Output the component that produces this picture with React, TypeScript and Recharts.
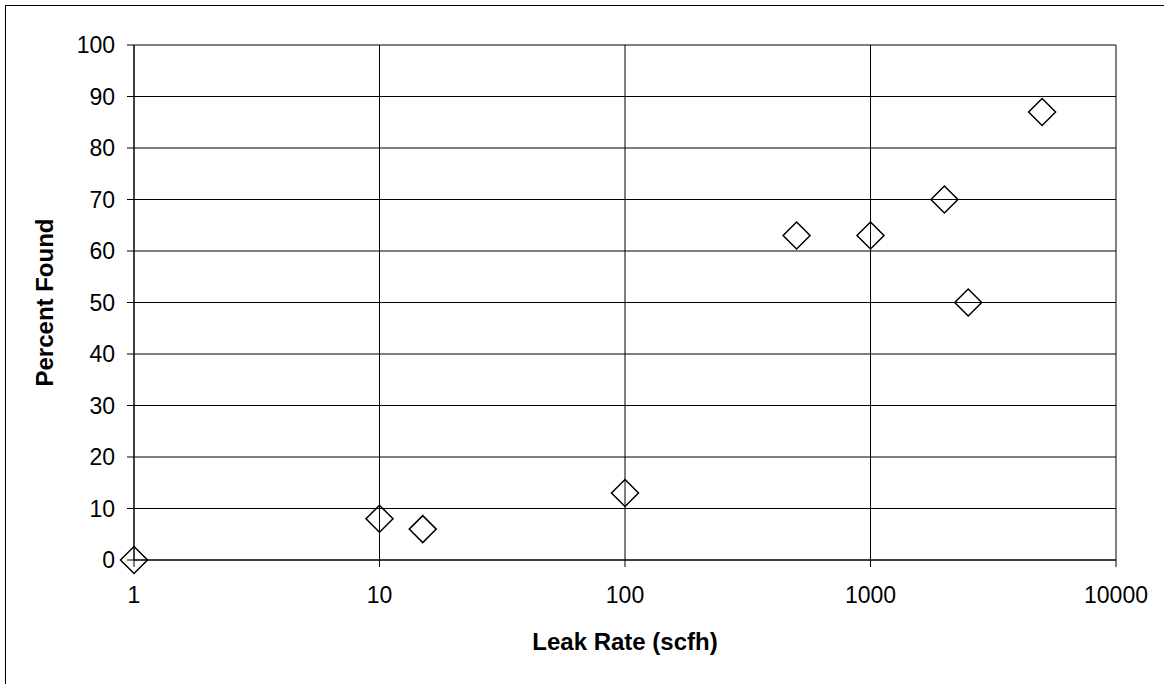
import React from 'react';
import { ScatterChart, Scatter, XAxis, YAxis, CartesianGrid, Label } from 'recharts';

const leakRates = [1, 10, 15, 100, 500, 1000, 2000, 2500, 5000];
const percentFound = [0, 8, 6, 13, 63, 63, 70, 50, 87];
const xTicks = [1, 10, 100, 1000, 10000];
const yTicks = [0, 10, 20, 30, 40, 50, 60, 70, 80, 90, 100];

const data = leakRates.map((x, i) => ({ x, y: percentFound[i] }));

const FONT = '"Liberation Sans", Arial, sans-serif';

const Diamond = (props: any) => {
  const { cx, cy } = props;
  const r = 13.5;
  return (
    <path
      d={`M${cx},${cy - r} L${cx + r},${cy} L${cx},${cy + r} L${cx - r},${cy} Z`}
      fill="none"
      stroke="#000"
      strokeWidth={1.5}
    />
  );
};

export default function App() {
  return (
    <div style={{ position: 'absolute', left: 0, top: 0, width: 1164, height: 684, overflow: 'hidden', background: '#fff' }}>
      <div
        style={{
          position: 'absolute',
          left: 5,
          top: 5,
          width: 1200,
          height: 720,
          borderTop: '1.5px solid #000',
          borderLeft: '1.5px solid #000',
        }}
      />
      <div style={{ position: 'absolute', left: 0, top: 0 }}>
        <ScatterChart width={1164} height={684} margin={{ top: 45, right: 48, bottom: 0, left: 0 }}>
          <CartesianGrid stroke="#000" strokeWidth={1} />
          <XAxis
            dataKey="x"
            type="number"
            scale="log"
            domain={[1, 10000]}
            ticks={xTicks}
            height={124}
            tickSize={7}
            tickMargin={20}
            stroke="#000"
            tick={{ fill: '#000', fontSize: 23, fontFamily: FONT }}
            tickLine={{ stroke: '#000' }}
            axisLine={{ stroke: '#000' }}
          >
            <Label
              value="Leak Rate (scfh)"
              position="insideBottom"
              offset={34}
              style={{ fontSize: 24, fontWeight: 'bold', fontFamily: FONT, fill: '#000' }}
            />
          </XAxis>
          <YAxis
            dataKey="y"
            type="number"
            domain={[0, 100]}
            ticks={yTicks}
            width={134}
            tickSize={7}
            tickMargin={12}
            stroke="#000"
            tick={{ fill: '#000', fontSize: 23, fontFamily: FONT }}
            tickLine={{ stroke: '#000' }}
            axisLine={{ stroke: '#000' }}
          >
            <Label
              value="Percent Found"
              angle={-90}
              position="insideLeft"
              offset={47}
              dx={-3}
              style={{ fontSize: 24, fontWeight: 'bold', fontFamily: FONT, fill: '#000', textAnchor: 'middle' }}
            />
          </YAxis>
          <Scatter data={data} shape={Diamond} isAnimationActive={false} />
        </ScatterChart>
      </div>
    </div>
  );
}
